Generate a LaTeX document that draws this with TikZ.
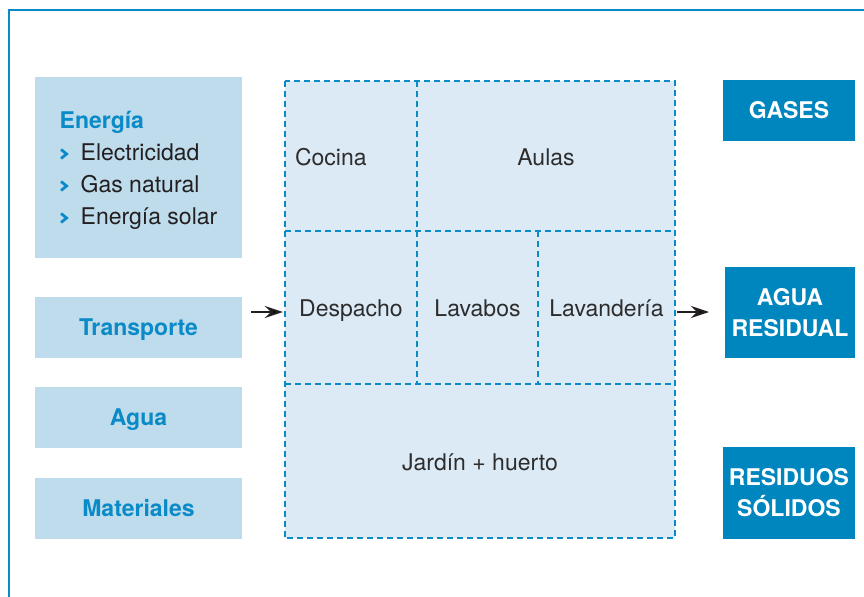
\documentclass[tikz,border=0pt]{standalone}
\usepackage{fontspec}
\setmainfont{TeX Gyre Heros}
\usepackage{xcolor}
\usetikzlibrary{arrows.meta}
\definecolor{azul}{RGB}{10,138,198}
\definecolor{azulfondo}{RGB}{190,220,236}
\definecolor{celeste}{RGB}{220,234,245}
\definecolor{azulcaja}{RGB}{0,134,191}
\definecolor{gristexto}{RGB}{45,45,45}
\definecolor{negro}{RGB}{35,31,32}
\newcommand{\flechita}{\makebox[21bp][l]{\tikz[baseline=0pt,x=1bp,y=1bp]
  \draw[azul,line width=2.8bp,line join=miter] (1,2.5) -- (6.5,7) -- (1,11.5);}}

\begin{document}
\begin{tikzpicture}[x=1bp,y=-1bp,
    entrada/.style={fill=azulfondo,minimum width=207bp,minimum height=61bp,text=azul,
      font=\fontsize{23bp}{32bp}\selectfont\bfseries,inner sep=0pt},
    una/.style={text height=18.5bp,text depth=3bp},
    sala/.style={fill=celeste,text=gristexto,font=\fontsize{23bp}{28bp}\selectfont,inner sep=0pt,
      text height=21.5bp,text depth=3bp},
    salida/.style={fill=azulcaja,text=white,align=center,
      font=\fontsize{23bp}{31bp}\selectfont\bfseries,inner sep=0pt},
    linea/.style={draw=azul,line width=1.5bp,dash pattern=on 6bp off 4bp},
    flecha/.style={draw=negro,line width=2bp,-{Stealth[length=18bp,width=12bp,inset=6bp]}}]

    \useasboundingbox (0,0) rectangle (864,597);
    \draw[azul,line width=2bp] (864,10) -- (9,10) -- (9,597);

    \node[entrada,minimum height=181bp,align=left] (energia) at (138.5,167.5)
      {\rule{0pt}{24bp}Energía\\{\color{negro}\mdseries\flechita Electricidad}\\
       {\color{negro}\mdseries\flechita Gas natural}\\{\color{negro}\mdseries\flechita Energía solar}};
    \node[entrada,una] (transporte) at (138.5,327.5) {Transporte};
    \node[entrada,una] (agua) at (138.5,417.5) {Agua};
    \node[entrada,una] (materiales) at (138.5,508.5) {Materiales};

    \node[sala,minimum width=132bp,minimum height=150bp,text width=112bp,align=left] (cocina) at (351,156) {Cocina};
    \node[sala,minimum width=258bp,minimum height=150bp] (aulas) at (546,156) {Aulas};
    \node[sala,minimum width=132bp,minimum height=153bp] (despacho) at (351,307.5) {Despacho};
    \node[sala,minimum width=121bp,minimum height=153bp] (lavabos) at (477.5,307.5) {Lavabos};
    \node[sala,minimum width=137bp,minimum height=153bp] (lavanderia) at (606.5,307.5) {Lavandería};
    \node[sala,minimum width=390bp,minimum height=154bp] (jardin) at (480,461) {Jardín + huerto};

    \draw[linea] (cocina.north west) rectangle (jardin.south east);
    \draw[linea] (cocina.north east) -- (cocina.south east);
    \draw[linea] (despacho.north west) -- (lavanderia.north east);
    \draw[linea] (despacho.north east) -- (despacho.south east);
    \draw[linea] (lavabos.north east) -- (lavabos.south east);
    \draw[linea] (jardin.north west) -- (jardin.north east);

    \node[salida,minimum width=132bp,minimum height=61bp] (gases) at (789,110.5) {GASES};
    \node[salida,minimum width=130bp,minimum height=91bp] (aguaresidual) at (790,312.5) {AGUA\\RESIDUAL};
    \node[salida,minimum width=132bp,minimum height=92bp] (residuos) at (789,493) {RESIDUOS\\SÓLIDOS};

    \coordinate (llega) at (251,312);
    \coordinate (sale) at (709,312);
    \draw[flecha,shorten >=2bp] (llega) -- (llega -| despacho.west);
    \draw[flecha,shorten <=2bp] (sale -| lavanderia.east) -- (sale);
\end{tikzpicture}
\end{document}
